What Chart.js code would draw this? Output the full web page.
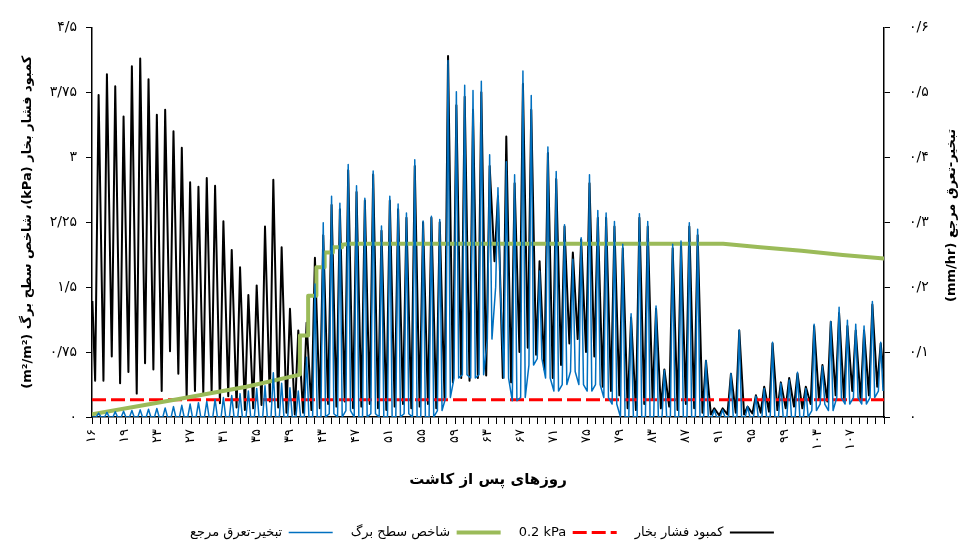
<!DOCTYPE html>
<html lang="fa">
<head>
<meta charset="utf-8">
<title>کمبود فشار بخار، شاخص سطح برگ و تبخیر-تعرق مرجع</title>
<script src="https://cdn.jsdelivr.net/npm/chart.js@4.4.0/dist/chart.umd.min.js"></script>
<style>
  body { margin: 0; background: #fff; }
  canvas { direction: rtl; }
</style>
</head>
<body>
<canvas id="chart" width="964" height="545"></canvas>
<script>
// برچسب‌های محورها
const xTickLabels = ['۱۶', '۱۹', '۲۳', '۲۷', '۳۱', '۳۵', '۳۹', '۴۳', '۴۷', '۵۱', '۵۵', '۵۹',
    '۶۳', '۶۷', '۷۱', '۷۵', '۷۹', '۸۳', '۸۷', '۹۱', '۹۵', '۹۹', '۱۰۳', '۱۰۷'];
const leftTickValues = [0, 0.75, 1.5, 2.25, 3, 3.75, 4.5];
const leftTickLabels = ['۰', '۰/۷۵', '۱/۵', '۲/۲۵', '۳', '۳/۷۵', '۴/۵'];
const rightTickValues = [0, 0.1, 0.2, 0.3, 0.4, 0.5, 0.6];
const rightTickLabels = ['۰', '۰/۱', '۰/۲', '۰/۳', '۰/۴', '۰/۵', '۰/۶'];

// \u2066 ... \u2069 keeps "0.2 kPa" left-to-right inside the rtl legend
const seriesNames = ['کمبود فشار بخار', '\u20660.2 kPa\u2069', 'شاخص سطح برگ', 'تبخیر-تعرق مرجع'];

// روز اولین چرخه روزانه و فاصله چرخه‌ها روی محور
const firstCycleDay = 15.8;
const cycleDays = 1.0085;

// کمبود فشار بخار (kPa): بیشینه و کمینه هر روز
const vpdPeak = [
    3.72, 3.96, 3.82, 3.47, 4.05, 4.14, 3.90, 3.49, 3.55, 3.30,
    3.11, 2.71, 2.66, 2.76, 2.67, 2.26, 1.93, 1.73, 1.41, 1.52,
    2.20, 2.74, 1.96, 1.25, 1.00, 1.09, 1.84, 2.10, 2.45, 2.40,
    2.85, 2.60, 2.50, 2.80, 2.15, 2.50, 2.40, 2.30, 2.90, 2.25,
    2.30, 2.25, 4.17, 3.60, 3.70, 3.55, 3.75, 2.90, 2.55, 3.24,
    2.70, 3.85, 3.55, 1.80, 3.05, 2.75, 2.20, 1.90, 2.05, 2.70,
    2.30, 2.30, 2.20, 1.95, 1.15, 2.30, 2.20, 1.25, 0.55, 1.95,
    2.00, 2.20, 2.10, 0.65, 0.10, 0.10, 0.50, 1.00, 0.12, 0.25,
    0.35, 0.85, 0.40, 0.45, 0.50, 0.35, 1.05, 0.60, 1.10, 1.20,
    1.05, 1.00, 1.00, 1.30, 0.85
];
const vpdLow = [
    0.42, 0.42, 0.70, 0.39, 0.52, 0.27, 0.62, 0.55, 0.30, 0.76,
    0.50, 0.22, 0.30, 0.28, 0.28, 0.16, 0.24, 0.11, 0.08, 0.10,
    0.14, 0.18, 0.11, 0.05, 0.03, 0.05, 0.08, 0.10, 0.15, 0.12,
    0.18, 0.10, 0.12, 0.15, 0.10, 0.08, 0.12, 0.15, 0.10, 0.12,
    0.15, 0.10, 0.20, 0.40, 0.45, 0.42, 0.45, 0.48, 1.80, 0.45,
    0.40, 0.75, 0.80, 0.72, 0.55, 0.45, 0.60, 0.85, 0.90, 0.75,
    0.70, 0.35, 0.30, 0.25, 0.10, 0.08, 0.15, 0.20, 0.10, 0.12,
    0.08, 0.15, 0.10, 0.05, 0.03, 0.02, 0.03, 0.05, 0.03, 0.04,
    0.05, 0.06, 0.08, 0.10, 0.12, 0.10, 0.15, 0.20, 0.18, 0.25,
    0.22, 0.30, 0.20, 0.25, 0.35
];
const vpdStart = 1.34;
const vpdEnd = 0.46;

// تبخیر-تعرق مرجع (mm/hr): بیشینه و کمینه هر روز
const etPeak = [
    0.006, 0.007, 0.008, 0.009, 0.010, 0.011, 0.012, 0.013, 0.014, 0.016,
    0.018, 0.020, 0.022, 0.024, 0.027, 0.030, 0.033, 0.036, 0.040, 0.044,
    0.048, 0.068, 0.052, 0.045, 0.040, 0.092, 0.205, 0.299, 0.340, 0.329,
    0.389, 0.356, 0.337, 0.379, 0.294, 0.340, 0.328, 0.314, 0.396, 0.302,
    0.309, 0.304, 0.549, 0.501, 0.511, 0.503, 0.517, 0.404, 0.353, 0.393,
    0.373, 0.533, 0.495, 0.225, 0.416, 0.378, 0.296, 0.243, 0.276, 0.373,
    0.318, 0.314, 0.301, 0.266, 0.159, 0.313, 0.301, 0.171, 0.072, 0.266,
    0.271, 0.299, 0.289, 0.087, 0.011, 0.011, 0.067, 0.134, 0.016, 0.032,
    0.044, 0.115, 0.052, 0.057, 0.069, 0.044, 0.143, 0.078, 0.147, 0.169,
    0.149, 0.143, 0.140, 0.178, 0.115
];
const etLow = [
    0, 0, 0, 0, 0, 0, 0, 0, 0, 0,
    0, 0, 0, 0, 0, 0, 0, 0, 0, 0,
    0, 0, 0, 0, 0, 0, 0, 0, 0.005, 0,
    0.01, 0, 0, 0.005, 0, 0, 0, 0.005, 0, 0,
    0, 0.01, 0.03, 0.06, 0.065, 0.06, 0.065, 0.12, 0.20, 0.06,
    0.025, 0.03, 0.08, 0.09, 0.06, 0.04, 0.05, 0.07, 0.05, 0.04,
    0.05, 0.03, 0.02, 0, 0, 0, 0, 0, 0, 0,
    0, 0, 0, 0, 0, 0, 0, 0, 0, 0,
    0, 0, 0, 0, 0, 0, 0.01, 0.02, 0.01, 0.03,
    0.02, 0.03, 0.02, 0.03, 0.04
];

// شاخص سطح برگ (m2/m2)
const laiDays = [15, 25.7, 33.7, 40.2, 40.2, 41.2, 41.2, 42.2, 42.2, 43.2, 43.2,
    44.2, 44.2, 45.3, 45.3, 46.3, 91.5, 96, 101, 106, 111];
const laiValues = [0.03, 0.21, 0.35, 0.49, 0.94, 0.94, 1.40, 1.40, 1.73, 1.73, 1.90,
    1.90, 1.96, 1.96, 1.99, 2.00, 2.00, 1.96, 1.92, 1.87, 1.83];

// خط آستانه 0.2 kPa
const thresholdDays = [15, 111];
const thresholdValues = [0.2, 0.2];

const xTitle = 'روزهای پس از کاشت';
const leftTitle = 'کمبود فشار بخار (kPa)، شاخص سطح برگ (m²/m²)';
const rightTitle = 'تبخیر-تعرق مرجع (mm/hr)';

// ساخت نقاط
const vpdPoints = [{x: 15.05, y: vpdStart}];
const etPoints = [{x: 15.05, y: 0}];
vpdPeak.forEach((v, i) => {
    const t = firstCycleDay + i * cycleDays;
    vpdPoints.push({x: t - 0.42, y: vpdLow[i]});
    vpdPoints.push({x: t, y: v});
    etPoints.push({x: t - 0.28, y: etLow[i]});
    etPoints.push({x: t, y: etPeak[i]});
    etPoints.push({x: t + 0.28, y: etLow[i]});
});
vpdPoints.push({x: 111, y: vpdEnd});

const laiPoints = laiDays.map((d, i) => ({x: d, y: laiValues[i]}));
const thresholdPoints = thresholdDays.map((d, i) => ({x: d, y: thresholdValues[i]}));

const dayTicks = [];
for (let d = 15; d <= 111; d++) dayTicks.push(d);

const font = 'DejaVu Sans';

const titlesPlugin = {
    id: 'titles',
    afterDraw(chart) {
        const ctx = chart.ctx;
        const area = chart.chartArea;
        ctx.save();
        ctx.fillStyle = '#000';
        ctx.direction = 'rtl';
        ctx.textAlign = 'center';
        ctx.textBaseline = 'middle';
        ctx.font = 'bold 15px "' + font + '"';
        ctx.fillText(xTitle, (area.left + area.right) / 2, area.bottom + 63);
        ctx.font = 'bold 13px "' + font + '"';
        ctx.translate(area.right + 68, area.top + 188);
        ctx.rotate(-Math.PI / 2);
        ctx.fillText(rightTitle, 0, 0);
        ctx.restore();
    }
};

// legend items take the dash of their dataset line
const legendLabels = chart => Chart.defaults.plugins.legend.labels.generateLabels(chart).map(item => {
    const ds = chart.data.datasets[item.datasetIndex];
    item.lineDash = ds.borderDash || [];
    item.lineWidth = ds.borderWidth;
    item.strokeStyle = ds.borderColor;
    return item;
});

new Chart(document.getElementById('chart'), {
    type: 'line',
    data: {
        datasets: [
            {label: seriesNames[0], data: vpdPoints, borderColor: '#000000', backgroundColor: '#000000',
                borderWidth: 2, yAxisID: 'y', order: 4},
            {label: seriesNames[1], data: thresholdPoints, borderColor: '#FF0000', backgroundColor: '#FF0000',
                borderWidth: 3, borderDash: [14, 5], yAxisID: 'y', order: 3},
            {label: seriesNames[2], data: laiPoints, borderColor: '#9BBB59', backgroundColor: '#9BBB59',
                borderWidth: 4, yAxisID: 'y', order: 2},
            {label: seriesNames[3], data: etPoints, borderColor: '#0070C0', backgroundColor: '#0070C0',
                borderWidth: 1.5, yAxisID: 'y1', order: 1}
        ]
    },
    options: {
        responsive: false,
        animation: false,
        events: [],
        parsing: false,
        elements: {point: {radius: 0}, line: {tension: 0, borderJoinStyle: 'round'}},
        layout: {padding: {top: 25, left: 0, right: 0, bottom: -4}},
        plugins: {
            tooltip: {enabled: false},
            legend: {
                position: 'bottom',
                rtl: true,
                textDirection: 'rtl',
                labels: {
                    usePointStyle: true,
                    pointStyle: 'line',
                    pointStyleWidth: 44,
                    padding: 18,
                    color: '#000',
                    font: {family: font, size: 13},
                    generateLabels: legendLabels,
                    sort: (a, b) => a.datasetIndex - b.datasetIndex
                }
            }
        },
        scales: {
            x: {
                type: 'linear',
                min: 15,
                max: 111,
                afterBuildTicks: s => { s.ticks = dayTicks.map(v => ({value: v})); },
                afterFit: s => { s.height = 128 - (s.chart.legend ? s.chart.legend.height : 0) + 4; },
                ticks: {
                    autoSkip: false,
                    minRotation: 90,
                    maxRotation: 90,
                    padding: 5,
                    color: '#000',
                    font: {family: font, size: 13},
                    callback: v => {
                        const k = (v - 15) / 4;
                        return Number.isInteger(k) && k < xTickLabels.length ? xTickLabels[k] : '';
                    }
                },
                grid: {drawOnChartArea: false, drawTicks: true, tickLength: 7, color: '#000', lineWidth: 1},
                border: {color: '#000', width: 1.5}
            },
            y: {
                position: 'left',
                min: 0,
                max: 4.5,
                afterBuildTicks: s => { s.ticks = leftTickValues.map(v => ({value: v})); },
                afterFit: s => { s.width = 92; },
                ticks: {
                    padding: 9,
                    color: '#000',
                    font: {family: font, size: 14},
                    callback: (v, i) => leftTickLabels[i]
                },
                grid: {drawOnChartArea: false, drawTicks: true, tickLength: 6, color: '#000', lineWidth: 1},
                border: {color: '#000', width: 1.5},
                title: {
                    display: true,
                    text: leftTitle,
                    color: '#000',
                    font: {family: font, size: 13, weight: 'bold'},
                    padding: {top: 20, bottom: 0}
                }
            },
            y1: {
                position: 'right',
                min: 0,
                max: 0.6,
                afterBuildTicks: s => { s.ticks = rightTickValues.map(v => ({value: v})); },
                afterFit: s => { s.width = 80; },
                ticks: {
                    padding: 19,
                    color: '#000',
                    font: {family: font, size: 14},
                    callback: (v, i) => rightTickLabels[i]
                },
                grid: {drawOnChartArea: false, drawTicks: true, tickLength: 6, color: '#000', lineWidth: 1},
                border: {color: '#000', width: 1.5}
            }
        }
    },
    plugins: [titlesPlugin]
});
</script>
</body>
</html>
